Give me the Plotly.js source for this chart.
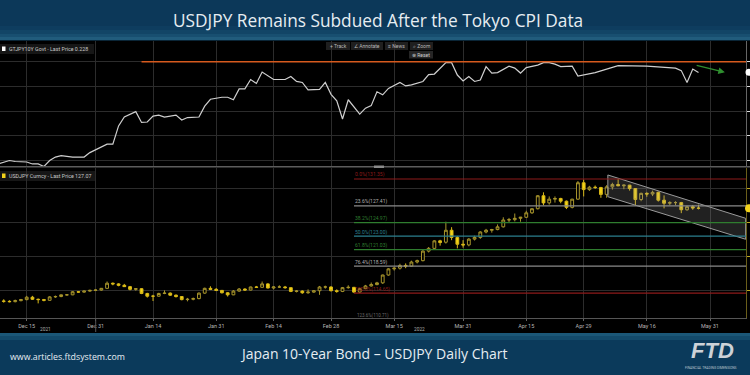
<!DOCTYPE html>
<html>
<head>
<meta charset="utf-8">
<script src="https://cdn.plot.ly/plotly-3.0.1.min.js"></script>
<style>html,body{margin:0;padding:0;background:#0b3a5c;}#chart{width:750px;height:375px;}</style>
</head>
<body>
<div id="chart"></div>
<script>
// ---------- DATA ----------
const chartTitle = "USDJPY Remains Subdued After the Tokyo CPI Data";
const footerCenter = "Japan 10-Year Bond \u2013 USDJPY Daily Chart";
const footerLeft = "www.articles.ftdsystem.com";

const tickDates = ['2021-12-15','2021-12-31','2022-01-14','2022-01-31','2022-02-14','2022-02-28','2022-03-15','2022-03-31','2022-04-15','2022-04-29','2022-05-16','2022-05-31'];
const tickLabels = ['Dec 15','Dec 31','Jan 14','Jan 31','Feb 14','Feb 28','Mar 15','Mar 31','Apr 15','Apr 29','May 16','May 31'];

// JGB 10Y yield (GTJPY10Y Govt)
const yieldDates = ['2021-12-08','2021-12-10','2021-12-13','2021-12-15','2021-12-16','2021-12-17','2021-12-20','2021-12-21','2021-12-22','2021-12-23','2021-12-27','2021-12-29','2021-12-30',
 '2022-01-04','2022-01-05','2022-01-06','2022-01-07','2022-01-11','2022-01-12','2022-01-13','2022-01-14','2022-01-17','2022-01-18','2022-01-20','2022-01-21','2022-01-24','2022-01-26','2022-01-27','2022-01-28',
 '2022-02-01','2022-02-02','2022-02-03','2022-02-04','2022-02-07','2022-02-08','2022-02-09','2022-02-10','2022-02-14','2022-02-16','2022-02-17','2022-02-18','2022-02-21','2022-02-22','2022-02-24','2022-02-25','2022-02-28',
 '2022-03-01','2022-03-02','2022-03-03','2022-03-07','2022-03-08','2022-03-09','2022-03-10','2022-03-11','2022-03-14','2022-03-16','2022-03-17','2022-03-18','2022-03-22','2022-03-23','2022-03-24','2022-03-28','2022-03-29','2022-03-30','2022-03-31',
 '2022-04-01','2022-04-04','2022-04-05','2022-04-06','2022-04-07','2022-04-08','2022-04-12','2022-04-13','2022-04-14','2022-04-15','2022-04-19','2022-04-20','2022-04-21','2022-04-22','2022-04-25','2022-04-27','2022-04-28',
 '2022-05-03','2022-05-09','2022-05-16','2022-05-19','2022-05-23','2022-05-24','2022-05-25','2022-05-26','2022-05-27'];
const yieldValues = [0.043,0.050,0.048,0.047,0.043,0.043,0.038,0.050,0.057,0.060,0.057,0.057,0.066,
 0.083,0.083,0.120,0.138,0.149,0.127,0.128,0.140,0.142,0.138,0.142,0.132,0.137,0.138,0.160,0.174,
 0.178,0.178,0.173,0.195,0.195,0.214,0.206,0.229,0.214,0.214,0.220,0.210,0.208,0.193,0.194,0.208,0.184,
 0.171,0.134,0.173,0.144,0.156,0.161,0.189,0.183,0.196,0.208,0.201,0.203,0.210,0.224,0.225,0.248,0.248,0.223,0.211,
 0.220,0.210,0.213,0.240,0.227,0.228,0.241,0.237,0.227,0.238,0.243,0.248,0.248,0.245,0.240,0.241,0.221,
 0.228,0.242,0.241,0.239,0.237,0.232,0.208,0.235,0.228];
const yieldCap = 0.25;
const yieldCapStart = '2022-01-12';
const yieldTicks = [0.05,0.10,0.15,0.20,0.25];

// USDJPY daily candles
const fxDates = ['2021-12-08','2021-12-09','2021-12-10','2021-12-13','2021-12-14','2021-12-15','2021-12-16','2021-12-17','2021-12-20','2021-12-21','2021-12-22','2021-12-23','2021-12-24','2021-12-27','2021-12-28','2021-12-29','2021-12-30','2021-12-31',
 '2022-01-03','2022-01-04','2022-01-05','2022-01-06','2022-01-07','2022-01-10','2022-01-11','2022-01-12','2022-01-13','2022-01-14','2022-01-17','2022-01-18','2022-01-19','2022-01-20','2022-01-21','2022-01-24','2022-01-25','2022-01-26','2022-01-27','2022-01-28','2022-01-31',
 '2022-02-01','2022-02-02','2022-02-03','2022-02-04','2022-02-07','2022-02-08','2022-02-09','2022-02-10','2022-02-11','2022-02-14','2022-02-15','2022-02-16','2022-02-17','2022-02-18','2022-02-21','2022-02-22','2022-02-23','2022-02-24','2022-02-25','2022-02-28',
 '2022-03-01','2022-03-02','2022-03-03','2022-03-04','2022-03-07','2022-03-08','2022-03-09','2022-03-10','2022-03-11','2022-03-14','2022-03-15','2022-03-16','2022-03-17','2022-03-18','2022-03-21','2022-03-22','2022-03-23','2022-03-24','2022-03-25','2022-03-28','2022-03-29','2022-03-30','2022-03-31',
 '2022-04-01','2022-04-04','2022-04-05','2022-04-06','2022-04-07','2022-04-08','2022-04-11','2022-04-12','2022-04-13','2022-04-14','2022-04-15','2022-04-18','2022-04-19','2022-04-20','2022-04-21','2022-04-22','2022-04-25','2022-04-26','2022-04-27','2022-04-28','2022-04-29',
 '2022-05-02','2022-05-03','2022-05-04','2022-05-05','2022-05-06','2022-05-09','2022-05-10','2022-05-11','2022-05-12','2022-05-13','2022-05-16','2022-05-17','2022-05-18','2022-05-19','2022-05-20','2022-05-23','2022-05-24','2022-05-25','2022-05-26','2022-05-27'];
const fxOpen = [113.60,113.50,113.45,113.40,113.55,113.70,114.05,113.75,113.70,113.60,114.10,114.15,114.40,114.40,114.85,114.80,114.95,115.05,
 115.10,115.35,116.10,116.00,115.80,115.60,115.20,115.30,114.60,114.20,114.20,114.60,114.65,114.35,114.15,113.70,113.75,113.85,114.65,115.35,115.20,
 115.05,114.70,114.40,114.95,115.25,115.10,115.55,115.50,116.00,115.40,115.55,115.55,115.45,114.90,114.95,114.70,114.80,115.00,115.55,115.55,
 115.00,114.90,115.45,115.50,114.80,115.30,115.70,115.90,116.15,117.30,118.20,118.30,118.70,118.60,119.20,119.40,120.80,121.20,122.30,122.10,123.85,122.80,121.80,
 121.70,122.55,122.80,123.60,123.85,123.95,124.35,125.35,125.40,125.60,125.75,126.40,127.00,128.90,127.85,128.40,128.50,128.10,127.20,128.40,130.80,
 129.80,130.15,130.10,129.10,130.20,130.55,130.35,130.45,129.95,128.35,129.25,129.15,129.40,128.25,127.80,127.90,127.90,126.85,127.30,127.10];
const fxHigh = [113.95,113.75,113.60,113.70,113.80,114.25,114.25,113.85,113.80,114.20,114.30,114.45,114.50,114.95,114.95,115.00,115.15,115.20,
 115.40,116.35,116.20,116.10,116.00,115.70,115.40,115.40,114.70,114.40,114.70,115.05,114.75,114.45,114.20,113.95,114.00,114.75,115.45,115.65,115.40,
 115.10,114.80,115.10,115.40,115.35,115.60,115.70,116.35,116.10,115.65,115.80,115.70,115.50,115.10,115.05,115.20,115.10,115.70,115.75,115.65,
 115.20,115.55,115.80,115.55,115.40,115.85,116.20,116.30,117.35,118.30,118.45,118.95,119.00,119.40,119.55,120.95,121.40,122.40,122.45,125.10,124.30,123.00,122.40,
 122.70,123.05,123.70,124.05,124.05,124.70,125.75,125.65,126.30,125.80,126.70,127.05,129.00,129.40,128.80,128.80,128.60,128.20,128.45,131.05,131.25,
 130.35,130.40,130.20,130.45,130.80,131.35,130.55,130.50,130.00,129.35,129.40,129.65,129.50,128.95,128.10,128.10,128.00,127.45,127.55,127.60];
const fxLow = [113.35,113.25,113.30,113.30,113.45,113.60,113.65,113.15,113.45,113.55,113.95,114.05,114.30,114.35,114.70,114.70,114.85,114.95,
 115.00,115.30,115.80,115.65,115.55,115.05,115.00,114.50,114.00,113.50,114.15,114.50,114.25,114.00,113.60,113.45,113.60,113.75,114.55,115.10,114.95,
 114.60,114.15,114.35,114.85,115.00,115.05,115.40,115.45,115.35,115.20,115.40,115.30,114.80,114.75,114.55,114.55,114.70,114.40,115.30,114.90,
 114.70,114.80,115.30,114.65,114.65,115.25,115.60,115.80,116.00,117.20,117.95,118.10,118.30,118.50,119.00,119.30,120.60,121.00,121.60,121.90,122.40,121.20,121.30,
 121.50,122.35,122.60,123.40,123.50,123.85,124.25,124.95,125.15,125.10,125.65,126.25,126.90,127.50,127.60,127.90,127.80,126.95,127.05,128.30,128.80,
 129.60,129.90,128.60,128.60,129.80,130.30,129.85,129.65,127.50,128.10,128.75,128.85,128.05,127.05,127.50,127.50,126.35,126.70,126.85,126.90];
const fxClose = [113.50,113.45,113.40,113.55,113.70,114.05,113.75,113.70,113.60,114.10,114.15,114.40,114.40,114.85,114.80,114.95,115.05,115.10,
 115.35,116.10,116.00,115.80,115.60,115.20,115.30,114.60,114.20,114.20,114.60,114.65,114.35,114.15,113.70,113.75,113.85,114.65,115.35,115.20,115.05,
 114.70,114.40,114.95,115.25,115.10,115.55,115.50,116.00,115.40,115.55,115.55,115.45,114.90,114.95,114.70,114.80,115.00,115.55,115.55,115.00,
 114.90,115.45,115.50,114.80,115.30,115.70,115.90,116.15,117.30,118.20,118.30,118.70,118.60,119.20,119.40,120.80,121.20,122.30,122.05,123.85,122.80,121.80,121.70,
 122.55,122.80,123.60,123.85,123.95,124.35,125.35,125.40,125.60,125.75,126.40,127.00,128.90,127.85,128.40,128.50,128.10,127.20,128.40,130.80,129.80,
 130.15,130.10,129.10,130.20,130.55,130.35,130.45,129.95,128.35,129.25,129.15,129.40,128.25,127.80,127.90,127.90,126.85,127.30,127.10,127.07];
const fxTicks = [115,120,125,130];

// Fibonacci retracement (drawn from Mar 4)
const fibStart = '2022-03-04';
const fibLabels = ['0.0%(131.35)','23.6%(127.41)','38.2%(124.97)','50.0%(123.00)','61.8%(121.03)','76.4%(118.59)','100.0%(114.65)'];
const fibLevels = [131.35,127.41,124.97,123.00,121.03,118.59,114.65];
const fibColors = ['#8e1a1a','#8a8a8a','#2f7d2f','#2b7f8e','#2f7d2f','#8a8a8a','#8e1a1a'];

// Downward channel drawn on USDJPY
const channelX = ['2022-05-05 05:00','2022-06-08 05:00','2022-06-08 05:00','2022-05-05 05:00','2022-05-05 05:00'];
const channelY = [131.94,125.60,122.53,128.76,131.94];

// Green arrow drawn on yield panel
const arrowTail = ['2022-05-26 10:00',0.2433];
const arrowHead = ['2022-06-02 14:00',0.2285];

// ---------- LAYOUT HELPERS ----------
const W = 750, H = 375;
const px = v => v / W;
const py = v => 1 - v / H;
const font = 'Roboto, "Liberation Sans", sans-serif';

const shapes = [];
const rectP = (x0,y0,x1,y1,color,layer) => shapes.push({type:'rect',xref:'paper',yref:'paper',x0:px(x0),x1:px(x1),y0:py(y1),y1:py(y0),fillcolor:color,line:{width:0},layer:layer||'below'});

// banner gradient
rectP(0,0,750,26,'#0c3859');
rectP(0,26,750,30,'#0e3d5f');
rectP(0,30,750,34,'#124566');
rectP(0,34,750,37,'#184f70');
rectP(0,37,750,40.5,'#215c7c');
// footer gradient
rectP(0,333,750,336,'#1b5777');
rectP(0,336,750,340,'#134a6a');
rectP(0,340,750,375,'#0b3a5b');
// black chart area
rectP(0,40.5,750,333,'#000000');
// legend backgrounds
rectP(0,44,94,54,'#161616');
rectP(0,171,96,181,'#161616');
rectP(2,46.5,5.5,51,'#ffffff','above');
rectP(2,173.5,5.5,178,'#f2d21b','above');
// toolbar boxes
rectP(326,42,350,50,'#1f1f1f');
rectP(351,42,383,50,'#1f1f1f');
rectP(385,42,408,50,'#1f1f1f');
rectP(410,42,433,50,'#1f1f1f');
rectP(409,51,433,58.5,'#262626');
// panel separator + handle
shapes.push({type:'line',xref:'paper',yref:'paper',x0:0,x1:1,y0:py(166.7),y1:py(166.7),line:{color:'#5c5c5c',width:1.6},layer:'above'});
rectP(374,165.5,384,168,'#8a8a8a','above');
// year separator tick
shapes.push({type:'line',xref:'paper',yref:'paper',x0:px(95.7),x1:px(95.7),y0:py(318),y1:py(332),line:{color:'#555555',width:1},layer:'above'});
// last price markers on right edge
shapes.push({type:'circle',xref:'paper',yref:'paper',x0:px(745.5),x1:px(752.5),y0:py(75.8),y1:py(68.8),fillcolor:'#ffffff',line:{width:0},layer:'above'});
shapes.push({type:'circle',xref:'paper',yref:'paper',x0:px(745),x1:px(753),y0:py(212.3),y1:py(204.3),fillcolor:'#f2d21b',line:{width:0},layer:'above'});

const xEnd = '2022-06-08 06:29';
// yield cap line
shapes.push({type:'line',xref:'x',yref:'y',x0:yieldCapStart,x1:xEnd,y0:yieldCap,y1:yieldCap,line:{color:'#d65a1e',width:1.6}});
// fib lines
fibLevels.forEach((lv,i)=>shapes.push({type:'line',xref:'x',yref:'y2',x0:fibStart,x1:xEnd,y0:lv,y1:lv,line:{color:fibColors[i],width:1.2}}));

const annotations = [];
const txt = (x,y,text,size,color,opts) => annotations.push(Object.assign({xref:'paper',yref:'paper',x:px(x),y:py(y),text:text,showarrow:false,font:{size:size,color:color,family:font},xanchor:'center',yanchor:'middle'},opts||{}));

txt(378,20,chartTitle,17.3,'#e6edf2',{font:{size:17.3,color:'#e6edf2',family:'"Open Sans", sans-serif'}});
txt(8,357.3,footerLeft,8.8,'#e6edf2',{xanchor:'left',font:{size:8.8,color:'#e6edf2',family:'"Open Sans", sans-serif'}});
txt(374,353.3,footerCenter,14,'#e6edf2',{font:{size:14,color:'#e6edf2',family:'"Open Sans", sans-serif'}});
txt(712,350,'<b><i>FTD</i></b>',22,'#cdd2d8',{font:{size:22,color:'#cdd2d8',family:'"Liberation Sans", Arial, sans-serif'}});
txt(711,367.5,'FINANCIAL TRADING DIMENSIONS',3.3,'#b9c2cc');

txt(7,49.2,'GTJPY10Y Govt - Last Price 0.228',5.3,'#c8c8c8',{xanchor:'left'});
txt(7,176.2,'USDJPY Curncy - Last Price 127.07',5.3,'#c8c8c8',{xanchor:'left'});
txt(338,46,'+ Track',5,'#b8b8b8');
txt(367,46,'\u2220 Annotate',5,'#b8b8b8');
txt(396.5,46,'\u2261 News',5,'#b8b8b8');
txt(421.5,46,'\u2315 Zoom',5,'#b8b8b8');
txt(421,54.8,'\u2297 Reset',5,'#d0d0d0');

txt(45,329,'2021',4.8,'#aaaaaa');
txt(419,329,'2022',4.8,'#aaaaaa');
txt(355,315.8,'123.6%(110.71)',4.5,'#6a6a6a',{xanchor:'left'});

fibLevels.forEach((lv,i)=>annotations.push({xref:'x',yref:'y2',x:fibStart,y:lv,text:fibLabels[i],showarrow:false,xanchor:'left',yanchor:'bottom',borderpad:0,yshift:-0.5,font:{size:5,color:fibColors[i]==='#8a8a8a'?'#b0b0b0':fibColors[i],family:font}}));

annotations.push({xref:'x',yref:'y',axref:'x',ayref:'y',x:arrowHead[0],y:arrowHead[1],ax:arrowTail[0],ay:arrowTail[1],text:'',showarrow:true,arrowhead:2,arrowsize:1,arrowwidth:1.3,arrowcolor:'#2f8f2f'});

// ---------- TRACES ----------
const traces = [
  {type:'scatter',mode:'lines',x:channelX,y:channelY,xaxis:'x',yaxis:'y2',fill:'toself',fillcolor:'rgba(150,150,150,0.22)',line:{color:'#9a9a9a',width:1},hoverinfo:'skip'},
  {type:'candlestick',x:fxDates,open:fxOpen,high:fxHigh,low:fxLow,close:fxClose,xaxis:'x',yaxis:'y2',
   increasing:{line:{color:'#a8952c',width:1},fillcolor:'#000000'},
   decreasing:{line:{color:'#d8b818',width:1},fillcolor:'#f5d516'},whiskerwidth:0,hoverinfo:'skip'},
  {type:'scatter',mode:'lines',x:yieldDates,y:yieldValues,xaxis:'x',yaxis:'y',line:{color:'#cfcfcf',width:1.2},hoverinfo:'skip'}
];

const layout = {
  width:W,height:H,margin:{l:0,r:0,t:0,b:0},
  paper_bgcolor:'#0b3a5c',plot_bgcolor:'rgba(0,0,0,0)',
  showlegend:false,
  xaxis:{type:'date',domain:[0,746/750],range:['2021-12-08 08:24',xEnd],anchor:'y2',
    rangebreaks:[{bounds:['sat','mon']}],rangeslider:{visible:false},
    tickvals:tickDates,ticktext:tickLabels,tickfont:{size:5.5,color:'#b4b4b4',family:font},
    ticks:'outside',ticklen:2,tickcolor:'#666',showgrid:true,gridcolor:'#2c2c2c',gridwidth:1,
    showline:true,linecolor:'#555',linewidth:1,zeroline:false,fixedrange:true},
  yaxis:{domain:[py(166),py(41)],range:[0.0389,0.2919],side:'right',anchor:'x',tickvals:yieldTicks,
    showticklabels:false,ticks:'outside',ticklen:3,tickcolor:'#dddddd',showgrid:true,gridcolor:'#2c2c2c',
    showline:true,linecolor:'#666',zeroline:false,fixedrange:true},
  yaxis2:{domain:[py(318),py(168)],range:[111.01,132.96],side:'right',anchor:'x',tickvals:fxTicks,
    showticklabels:false,ticks:'outside',ticklen:3,tickcolor:'#c0a820',showgrid:true,gridcolor:'#2c2c2c',
    showline:true,linecolor:'#6a5e1a',zeroline:false,fixedrange:true},
  shapes:shapes,annotations:annotations
};

Plotly.newPlot('chart',traces,layout,{displayModeBar:false,staticPlot:true});
</script>
</body>
</html>
